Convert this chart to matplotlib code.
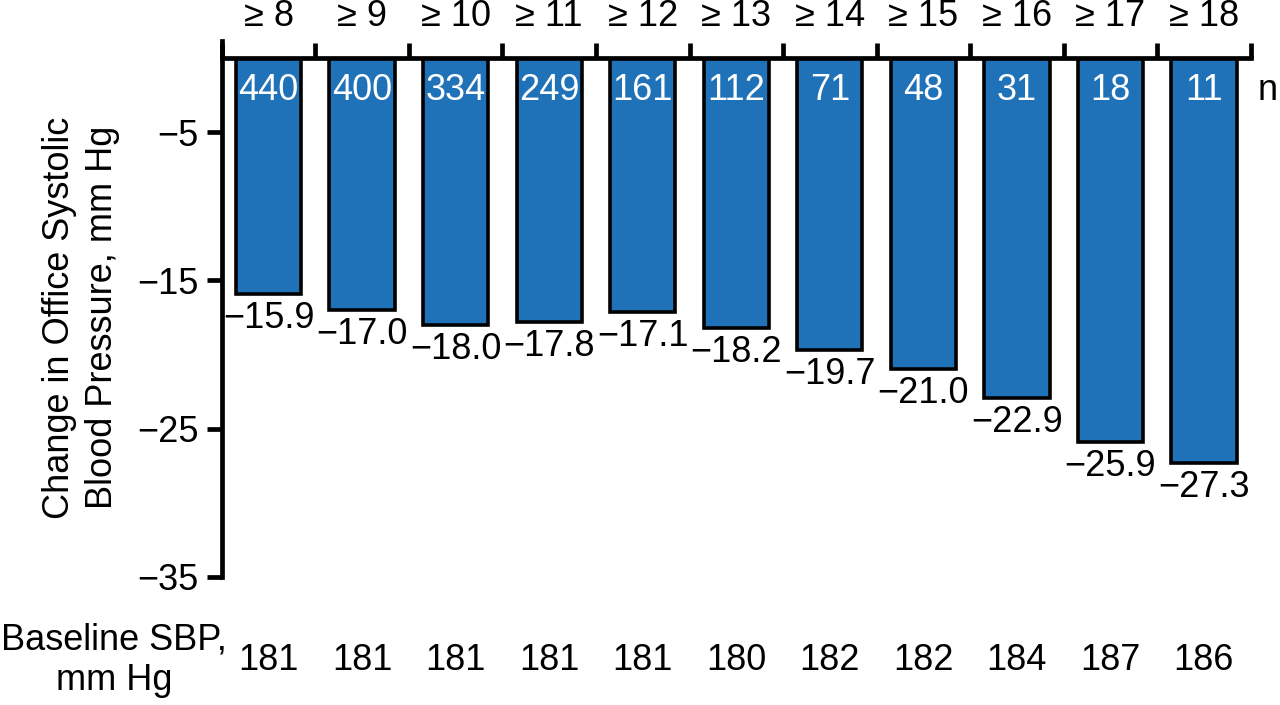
import numpy as np
import matplotlib.pyplot as plt
from matplotlib import transforms

plt.rcParams['font.family'] = ['Liberation Sans', 'DejaVu Sans']

# data
thresholds = ['≥ 8', '≥ 9', '≥ 10', '≥ 11', '≥ 12', '≥ 13', '≥ 14', '≥ 15', '≥ 16', '≥ 17', '≥ 18']
change = [-15.9, -17.0, -18.0, -17.8, -17.1, -18.2, -19.7, -21.0, -22.9, -25.9, -27.3]
n_counts = [440, 400, 334, 249, 161, 112, 71, 48, 31, 18, 11]
baseline_sbp = [181, 181, 181, 181, 181, 180, 182, 182, 184, 187, 186]

bar_color = '#1f71b8'
fs = 26

fig = plt.figure(figsize=(12.8, 7.05), dpi=100)
ax = fig.add_axes([0.1734, 0.1816, 0.8036, 0.7361])

x = np.arange(len(change))
ax.bar(x, change, width=0.7, color=bar_color, edgecolor='black', linewidth=2.6, zorder=2)

ax.set_xlim(-0.5, len(change) - 0.5)
ax.set_ylim(-35, 0)

# spines: left and top only
for s in ['right', 'bottom']:
    ax.spines[s].set_visible(False)
for s in ['left', 'top']:
    ax.spines[s].set_linewidth(3.4)
ax.spines['left'].set_bounds(-35, 1.15)
ax.spines['left'].set_clip_on(False)

ax.set_yticks([-5, -15, -25, -35])
ax.set_yticklabels(['−5', '−15', '−25', '−35'], fontsize=fs)
ax.tick_params(axis='y', length=11, width=3.4, pad=6)

ax.xaxis.set_ticks_position('top')
ax.set_xticks(np.arange(-0.5, len(change)))
ax.set_xticklabels([])
ax.tick_params(axis='x', direction='out', length=11, width=3.4)

ax.set_ylabel('Change in Office Systolic\nBlood Pressure, mm Hg', fontsize=fs, labelpad=12,
              linespacing=1.3)

top = transforms.blended_transform_factory(ax.transData, ax.transAxes)
for i in range(len(change)):
    ax.text(x[i], 1.08, thresholds[i], transform=top, ha='center', va='center', fontsize=fs)
    ax.text(x[i], -2.2, str(n_counts[i]), ha='center', va='center', fontsize=fs, color='white')
    ax.annotate(f'{change[i]:.1f}'.replace('-', '−'), (x[i], change[i]), xytext=(0, -5),
                textcoords='offset points', ha='center', va='top', fontsize=fs)
    ax.text(x[i], -0.16, str(baseline_sbp[i]), transform=top, ha='center', va='center', fontsize=fs)

ax.text(len(change) - 0.42, -2.2, 'n', ha='left', va='center', fontsize=fs)
fig.text(114 / 1280, 1 - 660 / 705, 'Baseline SBP,\nmm Hg', ha='center', va='center',
         fontsize=fs, linespacing=1.2)

fig.savefig('out.png', dpi=100)
